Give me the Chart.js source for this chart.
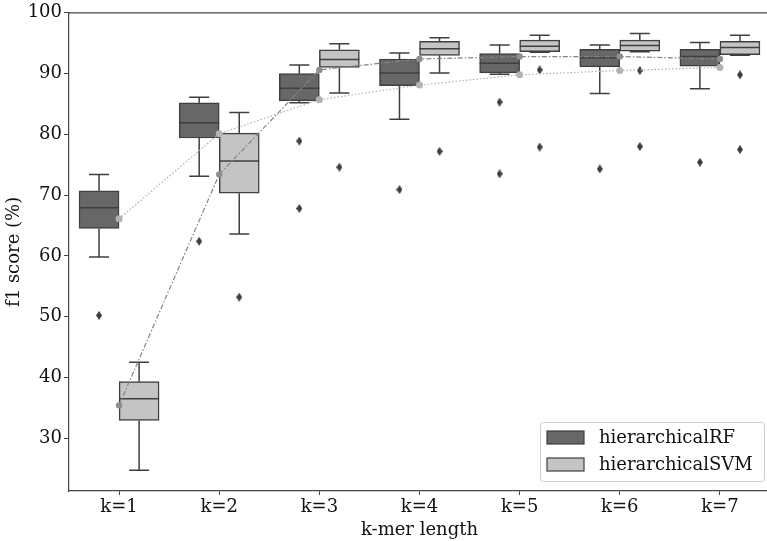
<!DOCTYPE html>
<html>
<head>
<meta charset="utf-8">
<script src="https://cdn.jsdelivr.net/npm/chart.js@4.4.1/dist/chart.umd.min.js"></script>
<style>
  html, body { margin: 0; padding: 0; background: #fff; overflow: hidden; }
  #wrap { width: 775px; height: 541px; }
</style>
</head>
<body>
<div id="wrap"><canvas id="chart"></canvas></div>
<script>
const labels = ['k=1', 'k=2', 'k=3', 'k=4', 'k=5', 'k=6', 'k=7'];
const yTicks = [30, 40, 50, 60, 70, 80, 90, 100];

// hierarchicalRF boxes
const rfLo  = [59.8, 73.1, 85.2, 82.5, 89.9, 86.7, 87.5];
const rfQ1  = [64.5, 79.4, 85.5, 88.0, 90.1, 91.1, 91.2];
const rfMed = [67.9, 81.9, 87.6, 90.1, 91.7, 92.6, 92.8];
const rfQ3  = [70.7, 85.2, 90.0, 92.4, 93.3, 94.0, 94.0];
const rfHi  = [73.4, 86.1, 91.4, 93.4, 94.7, 94.7, 95.1];
const rfOut = [[50.2], [62.4], [78.9, 67.8], [70.9], [85.3, 73.5], [74.3], [75.4]];

// hierarchicalSVM boxes
const svmLo  = [24.7, 63.6, 86.8, 90.1, 93.5, 93.6, 93.0];
const svmQ1  = [32.9, 70.3, 91.0, 93.0, 93.6, 93.7, 93.1];
const svmMed = [36.5, 75.6, 92.3, 94.1, 94.5, 94.6, 94.3];
const svmQ3  = [39.3, 80.2, 93.9, 95.3, 95.5, 95.5, 95.3];
const svmHi  = [42.5, 83.6, 94.9, 95.9, 96.3, 96.6, 96.3];
const svmOut = [[], [53.2], [74.6], [77.2], [90.6, 77.9], [90.5, 78.0], [89.8, 77.5]];

// the two dotted trend lines
const lightLine = [66.1, 80.1, 85.7, 88.1, 89.8, 90.5, 91.0];
const darkLine  = [35.4, 73.4, 90.6, 92.4, 92.8, 92.8, 92.4];

const edge = '#3f3f3f';
const serif = "'DejaVu Serif', 'Liberation Serif', serif";
const fontSize = 18;

// thin diamond for fliers
const flierImg = document.createElement('canvas');
flierImg.width = 6; flierImg.height = 9;
(function () {
    const c = flierImg.getContext('2d');
    c.fillStyle = '#3d3d3d';
    c.beginPath();
    c.moveTo(3, 0); c.lineTo(6, 4.5); c.lineTo(3, 9); c.lineTo(0, 4.5);
    c.closePath();
    c.fill();
})();

function flierPoints(outs, shift) {
    const pts = [];
    outs.forEach((arr, i) => arr.forEach(v => pts.push({ x: i + shift, y: v })));
    return pts;
}

function boxData(q1, q3, shift) {
    return q1.map((q, i) => ({ x: i + shift, y: [q, q3[i]] }));
}

// dataset index -> whisker/median values
const boxParts = {
    2: { lo: rfLo, med: rfMed, hi: rfHi, q1: rfQ1, q3: rfQ3 },
    3: { lo: svmLo, med: svmMed, hi: svmHi, q1: svmQ1, q3: svmQ3 }
};

const boxPlugin = {
    id: 'boxPlugin',
    afterDatasetDraw(chart, args) {
        const parts = boxParts[args.index];
        if (!parts) return;
        const ctx = chart.ctx;
        const y = chart.scales.y;
        ctx.save();
        ctx.strokeStyle = edge;
        ctx.lineWidth = 1.5;
        args.meta.data.forEach((bar, i) => {
            const half = bar.width / 2;
            const cap = bar.width / 4;
            const x = bar.x;
            ctx.beginPath();
            ctx.moveTo(x, y.getPixelForValue(parts.q3[i]));
            ctx.lineTo(x, y.getPixelForValue(parts.hi[i]));
            ctx.moveTo(x - cap, y.getPixelForValue(parts.hi[i]));
            ctx.lineTo(x + cap, y.getPixelForValue(parts.hi[i]));
            ctx.moveTo(x, y.getPixelForValue(parts.q1[i]));
            ctx.lineTo(x, y.getPixelForValue(parts.lo[i]));
            ctx.moveTo(x - cap, y.getPixelForValue(parts.lo[i]));
            ctx.lineTo(x + cap, y.getPixelForValue(parts.lo[i]));
            ctx.moveTo(x - half, y.getPixelForValue(parts.med[i]));
            ctx.lineTo(x + half, y.getPixelForValue(parts.med[i]));
            ctx.stroke();
        });
        ctx.restore();
    },
    afterDraw(chart) {
        const ctx = chart.ctx;
        const a = chart.chartArea;
        ctx.save();
        // top spine
        ctx.strokeStyle = '#444';
        ctx.lineWidth = 1.2;
        ctx.beginPath();
        ctx.moveTo(a.left, a.top);
        ctx.lineTo(a.right, a.top);
        ctx.stroke();

        // legend
        const lx = 540.5, ly = 422.5, lw = 224, lh = 59;
        ctx.fillStyle = 'rgba(255,255,255,0.85)';
        ctx.strokeStyle = '#cccccc';
        ctx.lineWidth = 1;
        ctx.beginPath();
        ctx.roundRect(lx, ly, lw, lh, 3);
        ctx.fill();
        ctx.stroke();
        const items = [
            { text: 'hierarchicalRF', color: '#676767', y: 431 },
            { text: 'hierarchicalSVM', color: '#c4c4c4', y: 458 }
        ];
        ctx.font = fontSize + 'px ' + serif;
        ctx.textBaseline = 'middle';
        items.forEach(it => {
            ctx.fillStyle = it.color;
            ctx.strokeStyle = edge;
            ctx.lineWidth = 1.2;
            ctx.fillRect(547, it.y, 37, 13);
            ctx.strokeRect(547, it.y, 37, 13);
            ctx.fillStyle = '#111';
            ctx.fillText(it.text, 599, it.y + 7);
        });
        ctx.restore();
    }
};

new Chart(document.getElementById('chart'), {
    data: {
        labels,
        datasets: [
            {
                type: 'line',
                label: 'light',
                data: lightLine,
                borderColor: '#b0b0b0',
                borderWidth: 1.2,
                borderDash: [1.5, 2],
                pointRadius: 3.5,
                pointBackgroundColor: '#b3b3b3',
                pointBorderWidth: 0,
                tension: 0,
                order: 0
            },
            {
                type: 'line',
                label: 'dark',
                data: darkLine,
                borderColor: '#858585',
                borderWidth: 1.2,
                borderDash: [5, 2, 1.5, 2],
                pointRadius: 3.2,
                pointBackgroundColor: '#8e8e8e',
                pointBorderWidth: 0,
                tension: 0,
                order: 0
            },
            {
                type: 'bar',
                label: 'hierarchicalRF',
                xAxisID: 'x2',
                data: boxData(rfQ1, rfQ3, -0.2),
                backgroundColor: '#676767',
                borderColor: edge,
                borderWidth: 1.5,
                borderSkipped: false,
                grouped: false,
                categoryPercentage: 1,
                barPercentage: 1,
                maxBarThickness: 40,
                order: 2
            },
            {
                type: 'bar',
                label: 'hierarchicalSVM',
                xAxisID: 'x2',
                data: boxData(svmQ1, svmQ3, 0.2),
                backgroundColor: '#c4c4c4',
                borderColor: edge,
                borderWidth: 1.5,
                borderSkipped: false,
                grouped: false,
                categoryPercentage: 1,
                barPercentage: 1,
                maxBarThickness: 40,
                order: 2
            },
            {
                type: 'scatter',
                label: 'rf fliers',
                xAxisID: 'x2',
                data: flierPoints(rfOut, -0.2),
                pointStyle: flierImg,
                order: 1
            },
            {
                type: 'scatter',
                label: 'svm fliers',
                xAxisID: 'x2',
                data: flierPoints(svmOut, 0.2),
                pointStyle: flierImg,
                order: 1
            }
        ]
    },
    options: {
        responsive: true,
        maintainAspectRatio: false,
        animation: false,
        layout: { padding: { top: 12, right: 0, left: 0, bottom: 0 } },
        plugins: { legend: { display: false }, tooltip: { enabled: false } },
        scales: {
            x: {
                type: 'category',
                offset: true,
                grid: { offset: false, drawOnChartArea: false, tickLength: 4, color: '#444' },
                border: { color: '#444', width: 1.2 },
                ticks: { color: '#111', font: { family: serif, size: fontSize }, padding: 2, maxRotation: 0 },
                title: { display: true, text: 'k-mer length', color: '#111', font: { family: serif, size: fontSize }, padding: 0 },
                afterFit: s => { s.height = 50; }
            },
            x2: {
                type: 'linear',
                display: false,
                offset: false,
                min: -0.5,
                max: 6.5
            },
            y: {
                min: 21.3,
                max: 100,
                afterBuildTicks: s => { s.ticks = yTicks.map(v => ({ value: v })); },
                grid: { drawOnChartArea: false, tickLength: 5, color: '#444' },
                border: { color: '#444', width: 1.2 },
                ticks: { color: '#111', font: { family: serif, size: fontSize }, padding: 2 },
                title: { display: true, text: 'f1 score (%)', color: '#111', font: { family: serif, size: fontSize }, padding: 4 },
                afterFit: s => { s.width = 69; }
            }
        }
    },
    plugins: [boxPlugin]
});
</script>
</body>
</html>
